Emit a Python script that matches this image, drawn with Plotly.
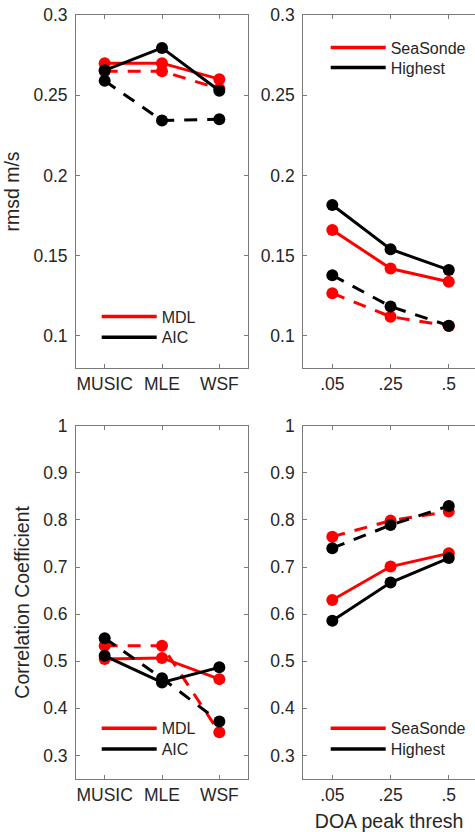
import plotly.graph_objects as go

# ---------------- data ----------------
methods = ["MUSIC", "MLE", "WSF"]
thresh_labels = [".05", ".25", ".5"]
xpos = [1, 2, 3]

# rmsd (m/s) vs method
rmsd_mdl_solid = [0.270, 0.270, 0.260]
rmsd_mdl_dash = [0.265, 0.265, 0.254]
rmsd_aic_solid = [0.2655, 0.2795, 0.2528]
rmsd_aic_dash = [0.259, 0.2342, 0.235]

# rmsd vs DOA peak threshold
rmsd_sea_solid = [0.166, 0.142, 0.1338]
rmsd_sea_dash = [0.1266, 0.112, 0.1062]
rmsd_hi_solid = [0.1816, 0.154, 0.1411]
rmsd_hi_dash = [0.1378, 0.1183, 0.1064]

# correlation coefficient vs method
cc_mdl_solid = [0.5045, 0.507, 0.462]
cc_mdl_dash = [0.533, 0.533, 0.349]
cc_aic_solid = [0.5115, 0.455, 0.487]
cc_aic_dash = [0.549, 0.464, 0.372]

# correlation coefficient vs DOA peak threshold
cc_sea_solid = [0.630, 0.701, 0.729]
cc_sea_dash = [0.7645, 0.7985, 0.8176]
cc_hi_solid = [0.586, 0.667, 0.719]
cc_hi_dash = [0.740, 0.789, 0.8297]

rmsd_ticks = [0.1, 0.15, 0.2, 0.25, 0.3]
rmsd_ticktext = ["0.1", "0.15", "0.2", "0.25", "0.3"]
cc_ticks = [0.3, 0.4, 0.5, 0.6, 0.7, 0.8, 0.9, 1.0]
cc_ticktext = ["0.3", "0.4", "0.5", "0.6", "0.7", "0.8", "0.9", "1"]

# ---------------- styling ----------------
W, H = 475, 832
FONT = "Liberation Sans, Arial, Helvetica, sans-serif"
TXT = "#262626"
AXC = "#7a7a7a"
RED = "#ff0000"
BLK = "#000000"
LW = 3
MS = 12
DASH = "13px,10px"


def fx(px):
    return px / W


def fy(py):
    return 1 - py / H


def px_x(a, b):
    return [fx(a), min(1.0, fx(b))]


def px_y(top, bottom):
    return [fy(bottom), fy(top)]


fig = go.Figure()


def add_series(y, color, dash, xa, ya):
    fig.add_trace(go.Scatter(
        x=xpos, y=y, mode="lines+markers",
        line=dict(color=color, width=LW, dash=dash),
        marker=dict(color=color, size=MS),
        showlegend=False, xaxis=xa, yaxis=ya, hoverinfo="skip"))


def add_legend_entry(name, color, legend, xa, ya):
    fig.add_trace(go.Scatter(
        x=[None], y=[None], mode="lines",
        line=dict(color=color, width=3.5),
        name=name, legend=legend, showlegend=True, xaxis=xa, yaxis=ya))


# (xaxis, yaxis, red series, black series, legend names, legend ids)
panels = [
    ("x", "y", [rmsd_mdl_solid, rmsd_mdl_dash], [rmsd_aic_solid, rmsd_aic_dash],
     ("MDL", "AIC"), ("legend", "legend2")),
    ("x2", "y2", [rmsd_sea_solid, rmsd_sea_dash], [rmsd_hi_solid, rmsd_hi_dash],
     ("SeaSonde", "Highest"), ("legend3", "legend4")),
    ("x3", "y3", [cc_mdl_solid, cc_mdl_dash], [cc_aic_solid, cc_aic_dash],
     ("MDL", "AIC"), ("legend5", "legend6")),
    ("x4", "y4", [cc_sea_solid, cc_sea_dash], [cc_hi_solid, cc_hi_dash],
     ("SeaSonde", "Highest"), ("legend7", "legend8")),
]

for xa, ya, reds, blacks, names, legs in panels:
    add_series(reds[0], RED, "solid", xa, ya)
    add_series(reds[1], RED, DASH, xa, ya)
    add_series(blacks[0], BLK, "solid", xa, ya)
    add_series(blacks[1], BLK, DASH, xa, ya)
    add_legend_entry(names[0], RED, legs[0], xa, ya)
    add_legend_entry(names[1], BLK, legs[1], xa, ya)

tickfont = dict(family=FONT, size=17.5, color=TXT)
titlefont = dict(family=FONT, size=19.5, color=TXT)

common_x = dict(showline=True, linecolor=AXC, linewidth=1, mirror="ticks",
                ticks="inside", ticklen=4, tickcolor=AXC, tickfont=tickfont,
                tickvals=xpos, showgrid=False, zeroline=False, fixedrange=True,
                automargin=False)
common_y = dict(showline=True, linecolor=AXC, linewidth=1,
                ticks="inside", ticklen=4, tickcolor=AXC, tickfont=tickfont,
                showgrid=False, zeroline=False, fixedrange=True, automargin=False,
                ticklabelstandoff=4)

left_x = px_x(76, 248)
right_x = px_x(303.2, 475)
top_y = px_y(15, 368)
bot_y = px_y(425.7, 779)

legend_common = dict(bgcolor="rgba(0,0,0,0)", borderwidth=0,
                     font=dict(family=FONT, size=16, color=TXT),
                     xanchor="left", yanchor="middle", itemwidth=55,
                     tracegroupgap=0, orientation="v")


def leg(line_x, row_y):
    return dict(legend_common, x=fx(line_x - 5), y=fy(row_y))


fig.update_layout(
    width=W, height=H,
    margin=dict(l=0, r=0, t=0, b=0, pad=0, autoexpand=False),
    paper_bgcolor="white", plot_bgcolor="white",
    font=dict(family=FONT, color=TXT),
    hovermode=False,
    xaxis=dict(common_x, domain=left_x, range=[0.5, 3.5], ticktext=methods, anchor="y"),
    yaxis=dict(common_y, domain=top_y, range=[0.08, 0.3], tickvals=rmsd_ticks,
               ticktext=rmsd_ticktext, mirror="ticks", anchor="x",
               title=dict(text="rmsd m/s", font=titlefont, standoff=8)),
    xaxis2=dict(common_x, domain=right_x, range=[0.5, 3.45], ticktext=thresh_labels, anchor="y2"),
    yaxis2=dict(common_y, domain=top_y, range=[0.08, 0.3], tickvals=rmsd_ticks,
                ticktext=rmsd_ticktext, mirror=False, anchor="x2"),
    xaxis3=dict(common_x, domain=left_x, range=[0.5, 3.5], ticktext=methods, anchor="y3"),
    yaxis3=dict(common_y, domain=bot_y, range=[0.25, 1.0], tickvals=cc_ticks,
                ticktext=cc_ticktext, mirror="ticks", anchor="x3",
                title=dict(text="Correlation Coefficient", font=titlefont, standoff=8)),
    xaxis4=dict(common_x, domain=right_x, range=[0.5, 3.45], ticktext=thresh_labels, anchor="y4",
                title=dict(text="DOA peak thresh", font=titlefont, standoff=12)),
    yaxis4=dict(common_y, domain=bot_y, range=[0.25, 1.0], tickvals=cc_ticks,
                ticktext=cc_ticktext, mirror=False, anchor="x4"),
    legend=leg(101.7, 316.7),
    legend2=leg(101.7, 337.3),
    legend3=leg(330.7, 47.7),
    legend4=leg(330.7, 67.7),
    legend5=leg(101.7, 728.3),
    legend6=leg(101.7, 749.0),
    legend7=leg(330.7, 728.3),
    legend8=leg(330.7, 749.0),
)

# remove the browser's default 8px page margin so the figure fills the window
fig.write_html(
    "out.html",
    config={"displayModeBar": False},
    post_script="document.body.style.margin='0';document.body.style.overflow='hidden';",
)
